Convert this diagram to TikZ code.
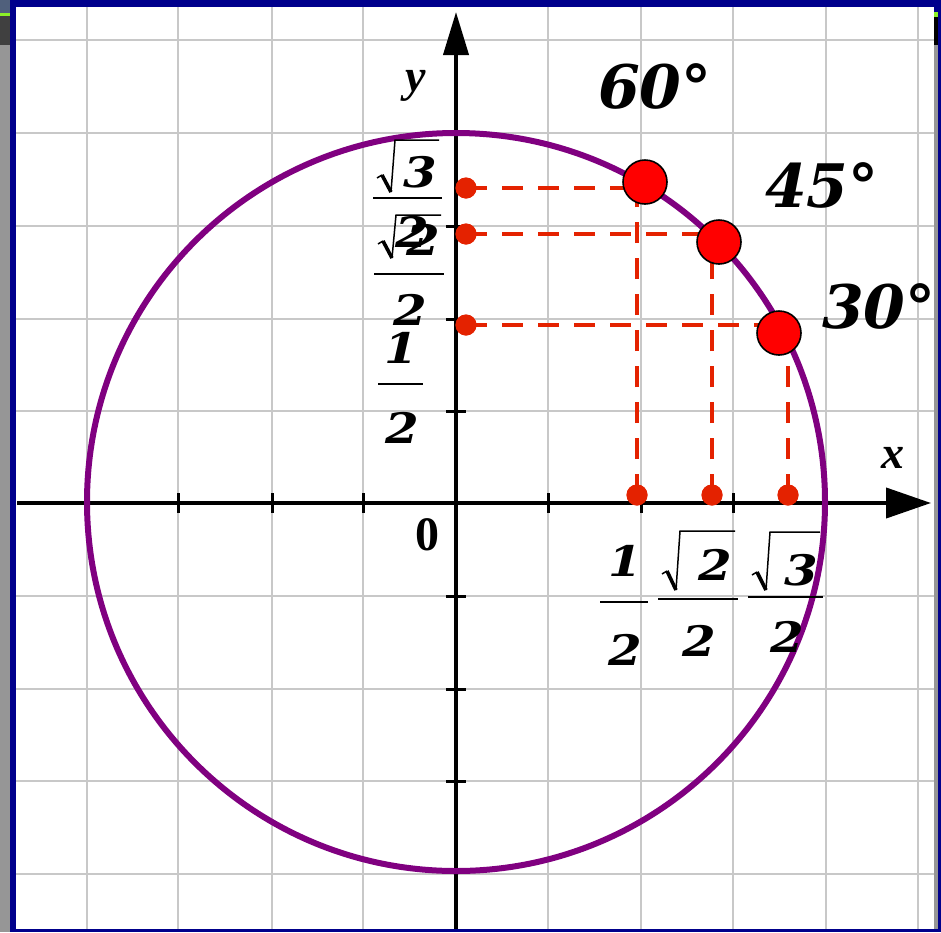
\documentclass[tikz,border=0pt]{standalone}
\usepackage{fontspec}
\usetikzlibrary{arrows.meta}
\newfontfamily\labf{DejaVu Serif}
\newfontfamily\fracf{DejaVu Serif}[FakeStretch=1.15]
\newfontfamily\axf{Liberation Serif}
\definecolor{navy}{RGB}{0,0,140}
\definecolor{slate}{RGB}{80,96,124}
\definecolor{limeg}{RGB}{140,240,40}
\definecolor{dgray}{RGB}{64,64,64}
\definecolor{lgray}{RGB}{150,150,150}
\definecolor{gridc}{RGB}{200,200,200}
\definecolor{purp}{RGB}{128,0,128}
\definecolor{dred}{RGB}{228,34,0}
\definecolor{bred}{RGB}{255,0,0}
\tikzset{
  gridline/.style={draw=gridc, line width=2pt},
  axisline/.style={draw=black, line width=4pt},
  tickmark/.style={draw=black, line width=3pt},
  dashline/.style={draw=dred, line width=4pt, dash pattern=on 21pt off 15pt},
  sdot/.style={circle, fill=dred, minimum size=21pt, inner sep=0pt},
  bdot/.style={circle, fill=bred, draw=black, line width=1.6pt, minimum size=44pt, inner sep=0pt},
  biglab/.style={font=\labf\bfseries\itshape\fontsize{60}{60}\selectfont, inner sep=0pt, anchor=base west},
  fraclab/.style={font=\fracf\bfseries\itshape\fontsize{42}{42}\selectfont, inner sep=0pt},
  axlab/.style={font=\axf\bfseries\itshape\fontsize{46}{46}\selectfont, inner sep=0pt},
  zerolab/.style={font=\axf\bfseries\fontsize{48}{48}\selectfont, inner sep=0pt},
  fracbar/.style={draw=black, line width=2pt},
  radthin/.style={draw=black, line width=1.5pt, line join=miter},
  radthick/.style={draw=black, line width=3.6pt, line cap=butt}
}
% radical sign: #1 left x, #2 hook y, #3 bottom y, #4 top y, #5 end x
\newcommand{\radsign}[5]{%
  \draw[radthin] (#1,#2) -- (#1+5,#2-3);
  \draw[radthick] (#1+5,#2-3) -- (#1+14,#3);
  \draw[radthin] (#1+14,#3) -- (#1+18,#4) -- (#5,#4);
}
\begin{document}
\begin{tikzpicture}[x=1pt,y=-1pt]
\useasboundingbox (0,0) rectangle (941,932);
% frame
\fill[navy] (0,0) rectangle (941,932);
\fill[slate] (0,0) rectangle (10,13);
\fill[limeg] (0,13) rectangle (10,16);
\fill[dgray] (0,16) rectangle (10,45);
\fill[lgray] (0,45) rectangle (10,932);
\fill[limeg] (934,12) rectangle (938,17);
\fill[black] (934,17) rectangle (938,45);
\fill[lgray] (934,45) rectangle (938,929);
\fill[white] (16,7) rectangle (934,929);
% grid
\foreach \gx in {87,178,272,363,548,641,733,826,918}
  \draw[gridline] (\gx,7) -- (\gx,929);
\foreach \gy in {40,133,226,319,411,596,689,781,874}
  \draw[gridline] (16,\gy) -- (934,\gy);
% axes
\coordinate (xs) at (17,503);
\coordinate (xe) at (931,503);
\coordinate (ys) at (456,929);
\coordinate (ye) at (456,12);
\draw[axisline, -{Triangle[length=45pt,width=30pt]}] (xs) -- (xe);
\draw[axisline, -{Triangle[length=43pt,width=25pt]}] (ys) -- (ye);
\foreach \tx in {178,272,363,548,641,733}
  \draw[tickmark] (\tx,493) -- (\tx,513);
\foreach \ty in {226,319,411,596,689,781}
  \draw[tickmark] (446,\ty) -- (466,\ty);
% circle
\node[circle, draw=purp, line width=6pt, minimum size=738pt, inner sep=0pt] (uc) at (456,502) {};
% small dots
\node[sdot] (sy60) at (466,188) {};
\node[sdot] (sy45) at (466,234) {};
\node[sdot] (sy30) at (466,325) {};
\node[sdot] (sx60) at (637,495) {};
\node[sdot] (sx45) at (712,495) {};
\node[sdot] (sx30) at (788,495) {};
% big dot positions
\coordinate (p60c) at (645,182);
\coordinate (p45c) at (719,242);
\coordinate (p30c) at (779,333);
% dashed lines
\draw[dashline] (sy60.center) -- (sy60.center -| p60c);
\draw[dashline] (sx60.center) -- (sx60.center |- sy60.center);
\draw[dashline] (sy45.center) -- (sy45.center -| p45c);
\draw[dashline] (sx45.center) -- (sx45.center |- p45c);
\draw[dashline] (sy30.center) -- (sy30.center -| p30c);
\draw[dashline] (sx30.center) -- (sx30.center |- p30c);
\node[sdot] at (sy60) {};
\node[sdot] at (sy45) {};
\node[sdot] at (sy30) {};
\node[sdot] at (sx60) {};
\node[sdot] at (sx45) {};
\node[sdot] at (sx30) {};
\node[bdot] (p60) at (p60c) {};
\node[bdot] (p45) at (p45c) {};
\node[bdot] (p30) at (p30c) {};
% angle labels
\node[biglab] (l60) at (598,108) {60°};
\node[biglab] (l45) at (765,207) {45°};
\node[biglab] (l30) at (822,328) {30°};
% axis labels
\node[axlab] (lx) at (893,458) {x};
\node[axlab] (ly) at (416,86) {y};
\node[zerolab] (l0) at (427,535) {0};
% fractions on y axis
\radsign{377}{178}{192}{140}{439}
\node[fraclab] (ny3) at (420,172) {3};
\draw[fracbar] (373,198) -- (442,198);
\node[fraclab] (dy3) at (412,232) {2};
\radsign{378}{244}{258}{215}{441}
\node[fraclab] (ny2) at (423,240) {2};
\draw[fracbar] (374,274) -- (444,274);
\node[fraclab] (dy2) at (410,310) {2};
\node[fraclab] (ny1) at (401,348) {1};
\draw[fracbar] (378,384) -- (423,384);
\node[fraclab] (dy1) at (402,428) {2};
% fractions on x axis
\node[fraclab] (nx1) at (625,561) {1};
\draw[fracbar] (600,602) -- (648,602);
\node[fraclab] (dx1) at (625,650) {2};
\radsign{662}{574}{590}{531}{735}
\node[fraclab] (nx2) at (715,565) {2};
\draw[fracbar] (658,599) -- (738,599);
\node[fraclab] (dx2) at (699,641) {2};
\radsign{752}{575}{590}{532}{820}
\node[fraclab] (nx3) at (801,570) {3};
\draw[fracbar] (748,597) -- (823,597);
\node[fraclab] (dx3) at (787,637) {2};
\end{tikzpicture}
\end{document}
